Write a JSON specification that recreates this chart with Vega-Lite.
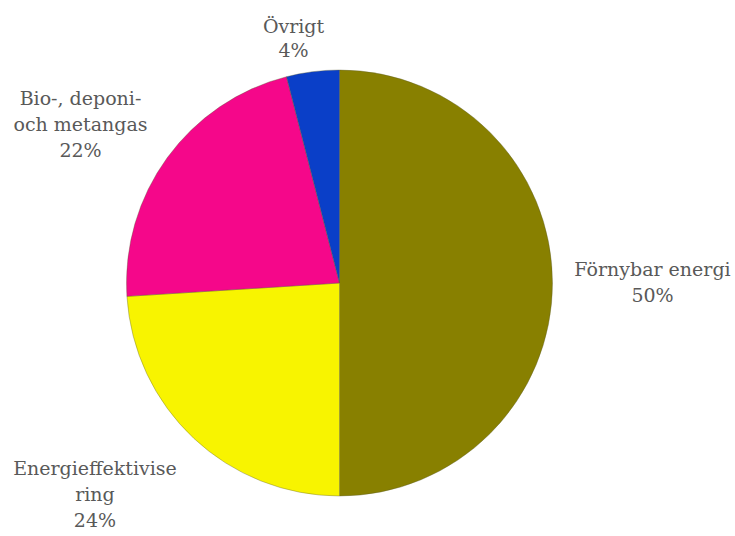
{
  "$schema": "https://vega.github.io/schema/vega-lite/v6.json",
  "autosize": "none",
  "width": 679,
  "height": 506,
  "padding": {"left": 0, "right": 56, "top": 30, "bottom": 0},
  "background": "white",
  "view": {"stroke": null},
  "data": {
    "values": [
      {"kategori": "Förnybar energi", "andel": 50, "ordning": 1, "etikett": "Förnybar energi\n50%"},
      {"kategori": "Energieffektivisering", "andel": 24, "ordning": 2, "etikett": "Energieffektivise\nring\n24%"},
      {"kategori": "Bio-, deponi- och metangas", "andel": 22, "ordning": 3, "etikett": "Bio-, deponi-\noch metangas\n22%"},
      {"kategori": "Övrigt", "andel": 4, "ordning": 4, "etikett": "Övrigt\n4%"}
    ]
  },
  "encoding": {
    "theta": {"field": "andel", "type": "quantitative", "stack": true},
    "order": {"field": "ordning", "type": "quantitative"}
  },
  "layer": [
    {
      "mark": {"type": "arc", "outerRadius": 213, "stroke": "#5a5a30", "strokeWidth": 0.6, "strokeOpacity": 0.6},
      "encoding": {
        "color": {
          "field": "kategori",
          "type": "nominal",
          "scale": {
            "domain": ["Förnybar energi", "Energieffektivisering", "Bio-, deponi- och metangas", "Övrigt"],
            "range": ["#888000", "#F8F400", "#F5078A", "#0A3FC8"]
          },
          "legend": null
        }
      }
    },
    {
      "mark": {"type": "text", "radius": 313, "dy": -13, "font": "DejaVu Serif", "fontSize": 19, "lineHeight": 26, "lineBreak": "\n", "color": "#595959", "align": "center", "baseline": "middle"},
      "encoding": {"text": {"condition": {"test": "datum.ordning == 1", "field": "etikett"}, "value": ""}}
    },
    {
      "mark": {"type": "text", "radius": 290, "dx": -46, "dy": -25, "font": "DejaVu Serif", "fontSize": 19, "lineHeight": 26, "lineBreak": "\n", "color": "#595959", "align": "center", "baseline": "middle"},
      "encoding": {"text": {"condition": {"test": "datum.ordning == 2", "field": "etikett"}, "value": ""}}
    },
    {
      "mark": {"type": "text", "radius": 267, "dx": -43, "dy": -27, "font": "DejaVu Serif", "fontSize": 19, "lineHeight": 26, "lineBreak": "\n", "color": "#595959", "align": "center", "baseline": "middle"},
      "encoding": {"text": {"condition": {"test": "datum.ordning == 3", "field": "etikett"}, "value": ""}}
    },
    {
      "mark": {"type": "text", "radius": 247, "dx": -15, "dy": -11, "font": "DejaVu Serif", "fontSize": 19, "lineHeight": 24, "lineBreak": "\n", "color": "#595959", "align": "center", "baseline": "middle"},
      "encoding": {"text": {"condition": {"test": "datum.ordning == 4", "field": "etikett"}, "value": ""}}
    }
  ]
}
